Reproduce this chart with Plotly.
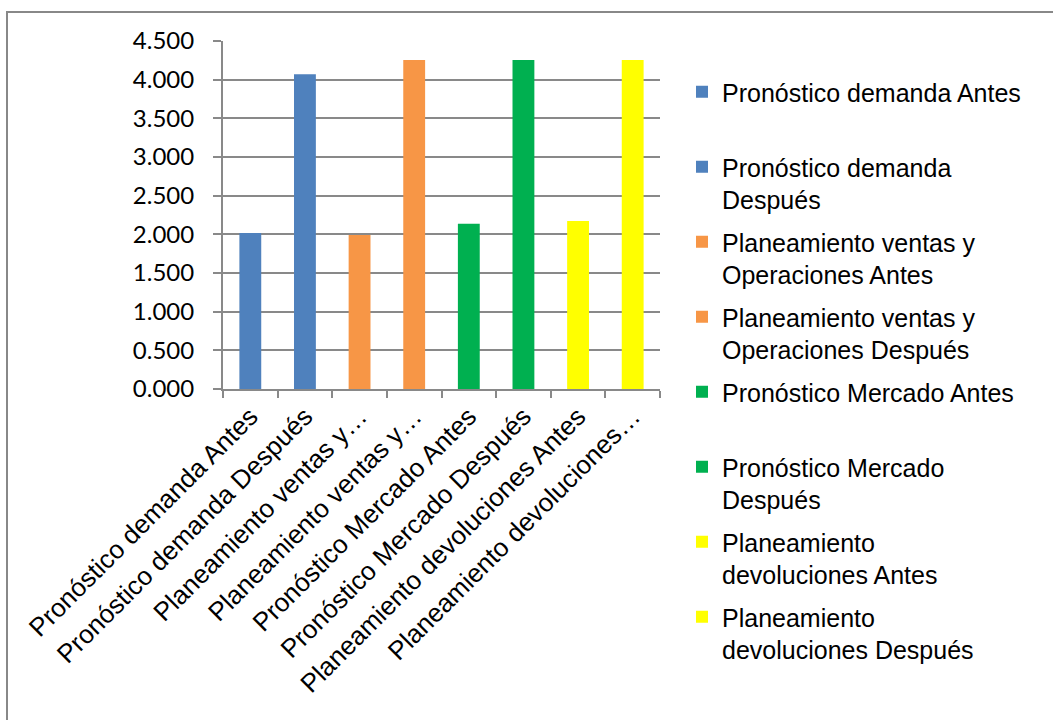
import plotly.graph_objects as go

# Series names (one bar each) and their values
series_names = [
    "Pronóstico demanda Antes",
    "Pronóstico demanda Después",
    "Planeamiento ventas y Operaciones Antes",
    "Planeamiento ventas y Operaciones Después",
    "Pronóstico Mercado Antes",
    "Pronóstico Mercado Después",
    "Planeamiento devoluciones Antes",
    "Planeamiento devoluciones Después",
]
values = [2.016, 4.07, 1.99, 4.255, 2.136, 4.255, 2.174, 4.255]
colors = ["#4F81BD", "#4F81BD", "#F79646", "#F79646",
          "#00B050", "#00B050", "#FFFF00", "#FFFF00"]

# Axis labels as shown under each bar
x_tick_labels = [
    "Pronóstico demanda Antes",
    "Pronóstico demanda Después",
    "Planeamiento ventas y…",
    "Planeamiento ventas y…",
    "Pronóstico Mercado Antes",
    "Pronóstico Mercado Después",
    "Planeamiento devoluciones Antes",
    "Planeamiento devoluciones…",
]
# Legend labels (wrapped as in the legend box)
legend_labels = [
    "Pronóstico demanda Antes<br> ",
    "Pronóstico demanda<br>Después",
    "Planeamiento ventas y<br>Operaciones Antes",
    "Planeamiento ventas y<br>Operaciones Después",
    "Pronóstico Mercado Antes<br> ",
    "Pronóstico Mercado<br>Después",
    "Planeamiento<br>devoluciones Antes",
    "Planeamiento<br>devoluciones Después",
]
y_tick_values = [0, 0.5, 1, 1.5, 2, 2.5, 3, 3.5, 4, 4.5]
y_tick_labels = ["0.000", "0.500", "1.000", "1.500", "2.000",
                 "2.500", "3.000", "3.500", "4.000", "4.500"]

W, H = 1053, 720
ML, MR, MT, MB = 223, 393, 41, 331
PW, PH = W - ML - MR, H - MT - MB

fig = go.Figure()
for i, (name, val, col, leg) in enumerate(zip(series_names, values, colors, legend_labels)):
    fig.add_trace(go.Bar(
        x=[name], y=[val], name=leg, marker_color=col,
        marker_line_width=0, width=0.4, legendgroup=f"g{i}",
    ))

grid_col = "#898989"
fig.update_layout(
    width=W, height=H,
    margin=dict(l=ML, r=MR, t=MT, b=MB),
    paper_bgcolor="white", plot_bgcolor="white",
    barmode="overlay",
    font=dict(family="Liberation Sans, Arial", color="black"),
    xaxis=dict(
        type="category",
        categoryorder="array", categoryarray=series_names,
        tickmode="array", tickvals=series_names, ticktext=x_tick_labels,
        tickangle=-45, tickson="boundaries",
        ticks="outside", ticklen=7, tickwidth=2, tickcolor=grid_col,
        showline=True, linecolor=grid_col, linewidth=2,
        showgrid=False,
        tickfont=dict(size=26, family="Liberation Sans, Arial"),
        range=[-0.5, 7.5],
    ),
    yaxis=dict(
        range=[0, 4.5],
        tickmode="array", tickvals=y_tick_values, ticktext=y_tick_labels,
        ticks="outside", ticklen=8, tickwidth=2, tickcolor=grid_col,
        showline=True, linecolor=grid_col, linewidth=2,
        showgrid=True, gridcolor=grid_col, gridwidth=2,
        zeroline=False, ticklabelstandoff=14,
        tickfont=dict(size=24, family="Lato, Liberation Sans"),
    ),
    legend=dict(
        x=(682 - ML) / PW, xanchor="left",
        y=(H - MB - 69) / PH, yanchor="top",
        font=dict(size=25, family="Liberation Sans, Arial"),
        valign="top", tracegroupgap=7, maxheight=700,
        bgcolor="rgba(0,0,0,0)",
    ),
    showlegend=True,
)

# outer chart frame
fig.add_shape(
    type="rect", xref="paper", yref="paper",
    x0=(7 - ML) / PW, x1=(W + 10 - ML) / PW,
    y0=(H - MB - (H + 10)) / PH, y1=(H - MB - 12) / PH,
    line=dict(color="#888888", width=2), fillcolor="rgba(0,0,0,0)",
    layer="below",
)

fig.write_html("out.html")
